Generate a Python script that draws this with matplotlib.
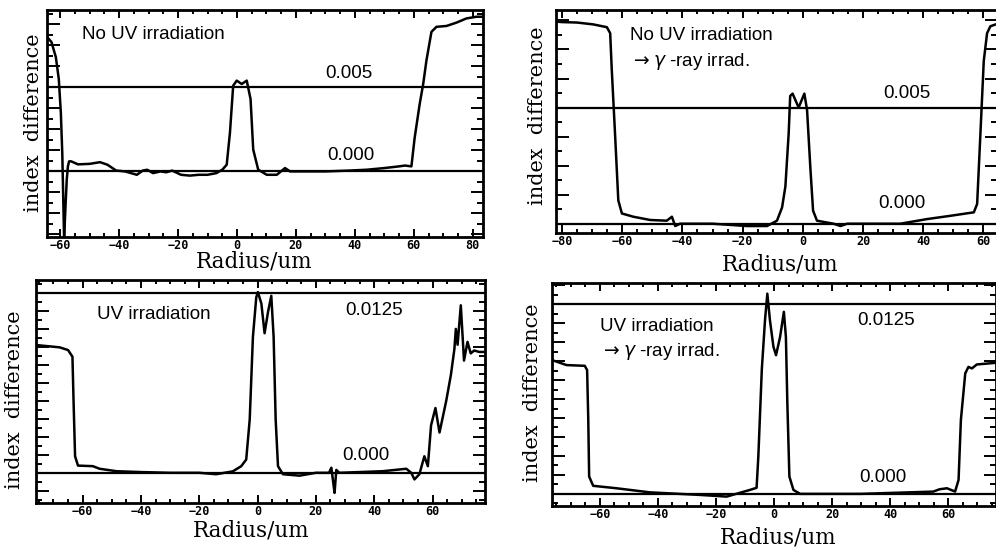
import matplotlib
matplotlib.use("Agg")
import matplotlib.pyplot as plt
from matplotlib.ticker import MultipleLocator

# --- data (radius in um) ---

# top left: no UV irradiation
noUV_x = [-64.5, -63.0, -61.5, -60.5, -59.8, -59.3, -59.0, -58.7, -58.2, -57.8,
          -57.4, -57.0, -56.3, -54, -50, -46.5, -44, -41, -38, -36, -34, -32,
          -30.5, -28.5, -26, -24, -22, -19, -16, -13, -10, -7, -5, -3.5, -2.4,
          -1.3, -0.1, 1.6, 3.3, 4.6, 5.5, 7.2, 10.1, 13.5, 16.3, 18, 22, 30, 38,
          44, 50, 55, 57, 59.2, 60.3, 62, 63.2, 64.3, 66, 67.7, 71.1, 74.5,
          77.9, 81.3, 83.5]
noUV_y = [0.0080, 0.0077, 0.0068, 0.0055, 0.0035, 0.0010, -0.0015, -0.0040,
          -0.0020, -0.0005, 0.0003, 0.0006, 0.0006, 0.00042, 0.00045, 0.00055,
          0.0004, 0.00005, 0.0, -0.0001, -0.0002, 0.00005, 0.0001, -0.0001, 0.0,
          -0.00005, 0.00005, -0.0002, -0.00025, -0.0002, -0.0002, -0.0001,
          0.0001, 0.0004, 0.0023, 0.0051, 0.0054, 0.0052, 0.0054, 0.0043,
          0.0013, 0.0001, -0.0002, -0.0002, 0.0002, 0.0, 0.0, 0.0, 0.00005,
          0.0001, 0.0002, 0.0003, 0.00035, 0.0003, 0.0020, 0.0040, 0.0052,
          0.0066, 0.0083, 0.0086, 0.00865, 0.00885, 0.0091, 0.0092, 0.0092]

# top right: no UV -> gamma-ray irradiation
noUV_g_x = [-82, -80, -75, -69.6, -65.1, -64.0, -63.5, -62.4, -61.3, -60.1,
            -56.3, -50.7, -45.2, -43.5, -42.4, -40.8, -30, -18.6, -11.9, -8.6,
            -6.9, -5.8, -4.7, -4.2, -3.4, -1.4, 0.5, 1.4, 2.5, 3.4, 4.7, 10.2,
            12.5, 14.7, 20, 32.4, 41.3, 49, 56.8, 57.9, 59, 60.1, 61.2, 62.3, 64.5]
noUV_g_y = [0.0087, 0.00868, 0.00866, 0.00858, 0.00846, 0.0082, 0.0067, 0.0039,
            0.0010, 0.00044, 0.0003, 0.00016, 0.00013, 0.0003, -0.0001, 0.0, 0.0,
            -0.0001, -0.0001, 0.00013, 0.0007, 0.0016, 0.0039, 0.0055, 0.0056,
            0.0050, 0.0056, 0.0049, 0.0024, 0.00056, 0.00013, 0.0, -0.0001, 0.0,
            0.0, 0.0, 0.0002, 0.00034, 0.00049, 0.00085, 0.0039, 0.0070, 0.0082,
            0.0085, 0.0086]

# bottom left: UV irradiation
UV_x = [-76, -67.9, -65, -63.5, -63.1, -62.6, -61.6, -56.5, -54.2, -48.4, -40,
        -30, -20, -14.2, -8.5, -5.6, -3.9, -2.7, -1.6, -0.45, 0.1, 1.3, 2.4,
        3.6, 4.7, 5.5, 6.2, 7.0, 8.7, 14.4, 20, 24.5, 25.3, 25.9, 26.4, 27.0,
        28, 35, 42.9, 51, 52.7, 53.8, 55.5, 57.2, 58.4, 59.5, 61, 62.4, 64.7,
        66.3, 67.5, 68, 68.6, 69.7, 70.8, 72, 73.1, 74.3, 76, 78]
UV_y = [0.00888, 0.00872, 0.00853, 0.00807, 0.00484, 0.00115, 0.0005, 0.00046,
        0.00028, 0.00011, 0.00005, 0.0, 0.0, -0.0001, 0.0001, 0.00046, 0.00092,
        0.0037, 0.00945, 0.0122, 0.01256, 0.01176, 0.0097, 0.0112, 0.0123,
        0.00945, 0.0037, 0.00046, -0.0001, -0.0002, 0.0, 0.0, 0.00035, -0.0006,
        -0.0014, 0.0002, 0.0, 0.00005, 0.00011, 0.00028, 0.0, -0.00046, -0.0001,
        0.00115, 0.00046, 0.0033, 0.0045, 0.0028, 0.0050, 0.0068, 0.0086,
        0.0100, 0.0089, 0.01164, 0.0078, 0.0091, 0.0083, 0.0085, 0.0084, 0.0084]

# bottom right: UV -> gamma-ray irradiation
UV_g_x = [-76.5, -71.5, -65.2, -64.4, -64.0, -63.7, -62.3, -54.3, -42.8, -25.5,
          -16.3, -8.3, -6, -5.4, -4.2, -3.1, -2.3, -1.4, -0.2, 0.7, 2.1, 3.4,
          4.1, 4.6, 5.3, 6.7, 9, 30, 54.9, 57, 59.6, 62.4, 63.6, 64.4, 65.9, 67,
          68.2, 69.9, 76.5]
UV_g_y = [0.00882, 0.00849, 0.00844, 0.00816, 0.00487, 0.00114, 0.00053,
          0.00037, 0.0001, -0.00007, -0.00018, 0.00026, 0.0004, 0.00245, 0.0082,
          0.01145, 0.0132, 0.01145, 0.0097, 0.00914, 0.01035, 0.0120, 0.01035,
          0.00597, 0.00114, 0.00026, 0.0, 0.0, 0.00015, 0.0003, 0.00037,
          0.00015, 0.00092, 0.00487, 0.00794, 0.00837, 0.00827, 0.00853, 0.00864]

# reference levels drawn across each panel
ref_levels = [[0.0, 0.005], [0.0, 0.005], [0.0, 0.0125], [0.0, 0.0125]]
ref_labels = [["0.000", "0.005"], ["0.000", "0.005"],
              ["0.000", "0.0125"], ["0.000", "0.0125"]]
titles = ["No UV irradiation", "No UV irradiation",
          "UV irradiation", "UV irradiation"]
subtitles = [None, r"$\rightarrow\gamma$ -ray irrad.",
             None, r"$\rightarrow\gamma$ -ray irrad."]
xticks = [[-60, -40, -20, 0, 20, 40, 60, 80],
          [-80, -60, -40, -20, 0, 20, 40, 60],
          [-60, -40, -20, 0, 20, 40, 60],
          [-60, -40, -20, 0, 20, 40, 60]]

curves = [(noUV_x, noUV_y), (noUV_g_x, noUV_g_y), (UV_x, UV_y), (UV_g_x, UV_g_y)]

# layout, all in pixels of the 996x548 picture
W, H = 996, 548
boxes = [(47, 10, 483, 237), (556, 10, 997, 233),
         (36, 280, 485, 503), (552, 283, 996, 506)]
xlims = [(-64.5, 83.5), (-82, 64.5), (-76, 78), (-76.5, 76.5)]
ylims = [(-0.0039, 0.0096), (-0.0004, 0.0092), (-0.0021, 0.0134), (-0.0008, 0.0139)]
title_pos = [(0.080, 0.89), (0.168, 0.886), (0.136, 0.845), (0.108, 0.805)]
sub_pos = [None, (0.168, 0.769), None, (0.108, 0.691)]
low_pos = [(0.642, 0.361), (0.730, 0.132), (0.681, 0.215), (0.691, 0.130)]
high_pos = [(0.638, 0.720), (0.743, 0.626), (0.688, 0.865), (0.688, 0.834)]
ylabel_pos = [(-0.032, 0.502), (-0.043, 0.525), (-0.047, 0.462), (-0.045, 0.509)]
xlabel_pos = [(0.475, -0.107), (0.509, -0.140), (0.479, -0.125), (0.510, -0.140)]

sans = ["Liberation Sans", "DejaVu Sans"]
plt.rcParams["mathtext.fontset"] = "dejavusans"

fig = plt.figure(figsize=(W / 100, H / 100), dpi=100)

for i in range(4):
    l, t, r, b = boxes[i]
    ax = fig.add_axes([l / W, 1 - b / H, (r - l) / W, (b - t) / H])

    ax.plot(curves[i][0], curves[i][1], color="black", lw=1.8,
            solid_joinstyle="round")
    for lev in ref_levels[i]:
        ax.axhline(lev, color="black", lw=1.6)

    ax.set_xlim(*xlims[i])
    ax.set_ylim(*ylims[i])

    # ticks inside on every side, no y tick labels
    ax.set_xticks(xticks[i])
    ax.xaxis.set_minor_locator(MultipleLocator(5))
    ax.yaxis.set_major_locator(MultipleLocator(0.00125))
    ax.yaxis.set_minor_locator(MultipleLocator(0.000625))
    ax.tick_params(which="both", direction="in", top=True, right=True,
                   labelleft=False, width=1.4)
    ax.tick_params(which="major", axis="x", length=6, pad=1.5)
    ax.tick_params(which="minor", axis="x", length=3)
    ax.tick_params(which="major", axis="y", length=9)
    ax.tick_params(which="minor", axis="y", length=4)
    for lab in ax.get_xticklabels():
        lab.set_fontfamily("DejaVu Sans Mono")
        lab.set_fontweight("bold")
        lab.set_fontsize(8.5)
    for sp in ax.spines.values():
        sp.set_linewidth(2.0)

    ax.set_ylabel("index  difference", family="DejaVu Serif", fontsize=15)
    ax.yaxis.set_label_coords(*ylabel_pos[i])
    ax.set_xlabel("Radius/um", family="DejaVu Serif", fontsize=15.5)
    ax.xaxis.set_label_coords(*xlabel_pos[i])
    ax.yaxis.label.set_va("center")
    ax.xaxis.label.set_va("center")

    ax.text(*title_pos[i], titles[i], transform=ax.transAxes, family=sans,
            fontsize=13.5, va="center", ha="left")
    if subtitles[i]:
        ax.text(*sub_pos[i], subtitles[i], transform=ax.transAxes, family=sans,
                fontsize=13.5, va="center", ha="left")
    ax.text(*low_pos[i], ref_labels[i][0], transform=ax.transAxes, family=sans,
            fontsize=13.5, va="center", ha="left")
    ax.text(*high_pos[i], ref_labels[i][1], transform=ax.transAxes, family=sans,
            fontsize=13.5, va="center", ha="left")

fig.savefig("out.png", dpi=100)
